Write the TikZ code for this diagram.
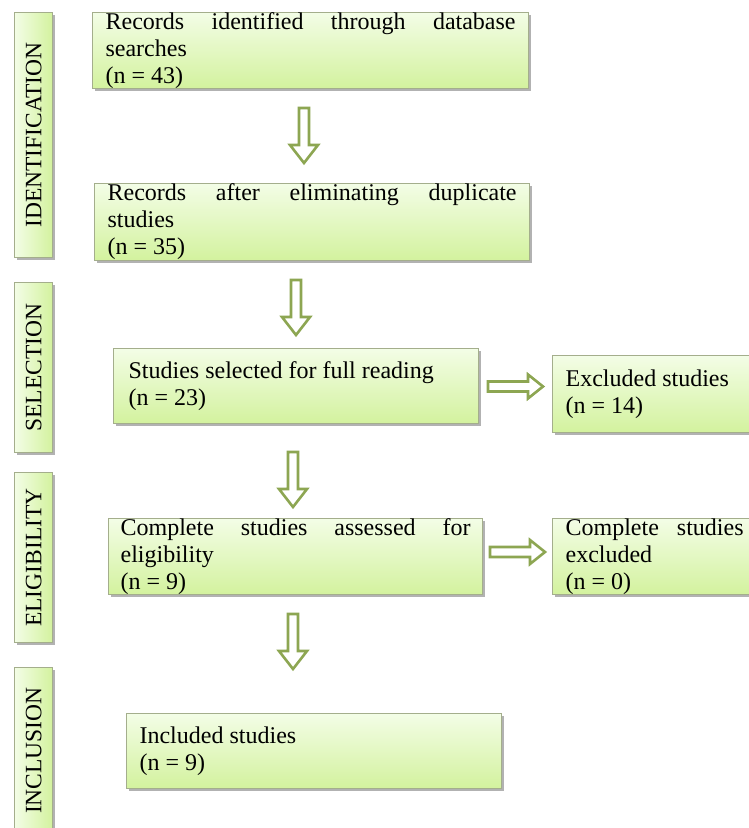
\documentclass[tikz,border=0pt]{standalone}
\usepackage{fontspec}
\setmainfont{Liberation Serif}
\usetikzlibrary{shadows}
\definecolor{boxtop}{HTML}{F3FDE6}
\definecolor{boxbot}{HTML}{D3F29E}
\definecolor{boxline}{HTML}{A4AE8C}
\definecolor{arrowc}{HTML}{8DA652}
\hyphenpenalty=10000
\tikzset{
  boxshadow/.style={drop shadow={shadow xshift=2pt, shadow yshift=-2.5pt, fill=black, opacity=0.3}},
  box/.style={draw=boxline, line width=1.2pt, top color=boxtop, bottom color=boxbot,
    anchor=north west, inner xsep=13pt, inner ysep=0pt, align=justify,
    font=\fontsize{24}{27}\selectfont, boxshadow},
  sidebox/.style={draw=boxline, line width=1.2pt, left color=boxtop, right color=boxbot,
    anchor=north west, inner sep=0pt, minimum width=38pt,
    font=\fontsize{23.5}{27}\selectfont, boxshadow},
  blockarrow/.style={draw=arrowc, line width=2.6pt, fill=white, line join=miter},
  downarr/.pic={\path[blockarrow] (-5,0) -- (5,0) -- (5,37) -- (14,37) -- (0,55) -- (-14,37) -- (-5,37) -- cycle;},
  rightarr/.pic={\path[blockarrow] (0,-5) -- (40,-5) -- (40,-12) -- (55,0) -- (40,12) -- (40,5) -- (0,5) -- cycle;}
}
\begin{document}
\begin{tikzpicture}[x=1pt,y=-1pt]
\useasboundingbox[fill=white] (0,0) rectangle (749,828);
% side labels
\node[sidebox, minimum height=245pt] (l1) at (14,12) {\rotatebox{90}{IDENTIFICATION}};
\node[sidebox, minimum height=170pt] (l2) at (14,282) {\rotatebox{90}{SELECTION}};
\node[sidebox, minimum height=170pt] (l3) at (14,472) {\rotatebox{90}{ELIGIBILITY}};
\node[sidebox, minimum height=166pt] (l4) at (14,667) {\rotatebox{90}{INCLUSION}};
% main boxes
\node[box, text width=410pt, minimum height=75pt] (b1) at (92,12)
  {Records identified through database\linebreak searches\\(n = 43)};
\node[box, text width=409pt, minimum height=77pt] (b2) at (94,183)
  {Records after eliminating duplicate\linebreak studies\\(n = 35)};
\node[box, text width=335pt, inner xsep=15pt, minimum height=75pt] (b3) at (113,348)
  {Studies selected for full reading\\(n = 23)};
\node[box, text width=350pt, inner xsep=12pt, minimum height=75pt] (b4) at (108,518)
  {Complete studies assessed for\linebreak eligibility\\(n = 9)};
\node[box, text width=349pt, minimum height=75pt] (b5) at (126,713)
  {Included studies\\(n = 9)};
% excluded boxes
\node[box, text width=204pt, minimum height=77pt] (e1) at (552,355)
  {Excluded studies\\(n = 14)};
\node[box, text width=178pt, minimum height=76pt] (e2) at (552,518)
  {Complete studies\linebreak excluded\\(n = 0)};
% arrows
\pic (a1) at (304,108) {downarr};
\pic (a2) at (296,280) {downarr};
\pic (a3) at (293,452) {downarr};
\pic (a4) at (293,614) {downarr};
\pic (r1) at (488,386.5) {rightarr};
\pic (r2) at (490,552) {rightarr};
\end{tikzpicture}
\end{document}
